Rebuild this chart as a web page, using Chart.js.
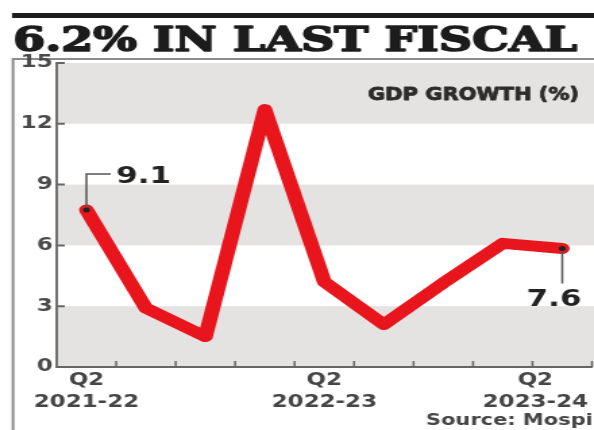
<!DOCTYPE html>
<html>
<head>
<meta charset="utf-8">
<script src="https://cdn.jsdelivr.net/npm/chart.js@4.4.1/dist/chart.umd.min.js"></script>
<style>
  html, body { margin: 0; padding: 0; background: #fff; overflow: hidden; }
  /* the reference is stretched sideways, so draw narrow and widen */
  #gdp { display: block; transform-origin: 0 0; transform: scaleX(1.35); }
</style>
</head>
<body>
<canvas id="gdp" width="440" height="430"></canvas>
<script>
const quarters = ['Q2 2021-22', 'Q3 2021-22', 'Q4 2021-22', 'Q1 2022-23', 'Q2 2022-23',
                  'Q3 2022-23', 'Q4 2022-23', 'Q1 2023-24', 'Q2 2023-24'];
const gdpGrowth = [7.75, 2.9, 1.5, 12.7, 4.2, 2.1, 4.15, 6.1, 5.85];
const yTicks = [0, 3, 6, 9, 12, 15];
const shadedBands = [[12, 15], [6, 9], [0, 3]];
const callouts = [
  { index: 0, text: '9.1', side: 'up' },
  { index: 8, text: '7.6', side: 'down' }
];
const titleText = '6.2% IN LAST FISCAL';
const seriesTitle = 'GDP GROWTH (%)';
const sourceText = 'Source: Mospi';

const SX = 1.35; // horizontal stretch applied by css

function fitText(ctx, text, x, y, width, stroke) {
  const w = ctx.measureText(text).width;
  ctx.save();
  ctx.translate(x, y);
  ctx.scale(width / w, 1);
  if (stroke) {
    ctx.lineWidth = stroke;
    ctx.lineJoin = 'round';
    ctx.strokeText(text, 0, 0);
  }
  ctx.fillText(text, 0, 0);
  ctx.restore();
}

const backdrop = {
  id: 'backdrop',
  beforeDraw(chart) {
    const { ctx, chartArea: a, scales: { y } } = chart;
    ctx.save();
    ctx.fillStyle = '#fff';
    ctx.fillRect(0, 0, chart.width, chart.height);

    // heavy rule and headline
    ctx.fillStyle = '#1c1c1c';
    ctx.strokeStyle = '#1c1c1c';
    ctx.fillRect(12 / SX, 13, chart.width, 5);
    ctx.font = 'bold 33px "DejaVu Serif"';
    ctx.textBaseline = 'alphabetic';
    ctx.textAlign = 'left';
    fitText(ctx, titleText, 13 / SX, 51, 564 / SX, 1.6);

    // frame
    ctx.strokeStyle = '#8c8c8c';
    ctx.lineWidth = 2;
    ctx.beginPath();
    ctx.moveTo(13 / SX, chart.height);
    ctx.lineTo(13 / SX, 59);
    ctx.lineTo(chart.width, 59);
    ctx.stroke();

    // grey bands
    ctx.fillStyle = '#e5e3e1';
    shadedBands.forEach(([lo, hi]) => {
      const top = y.getPixelForValue(hi), bot = y.getPixelForValue(lo);
      ctx.fillRect(a.left, top, chart.width - a.left, bot - top);
    });

    ctx.fillStyle = '#2b2b2b';
    ctx.strokeStyle = '#2b2b2b';
    ctx.font = 'bold 17px "DejaVu Sans"';
    ctx.textBaseline = 'middle';
    ctx.textAlign = 'left';
    fitText(ctx, seriesTitle, 368 / SX, 96, 211 / SX, 0.8);
    ctx.restore();
  },
  beforeDatasetsDraw(chart) {
    const { ctx, chartArea: a, scales: { x, y } } = chart;
    ctx.save();
    ctx.strokeStyle = '#666';
    ctx.lineWidth = 2;
    ctx.beginPath();
    yTicks.forEach(v => {
      const py = y.getPixelForValue(v);
      ctx.moveTo(a.left, py);
      ctx.lineTo(a.left + 6, py);
    });
    ctx.stroke();
    ctx.lineWidth = 1.5;
    ctx.beginPath();
    for (let k = 1; k <= quarters.length; k++) {
      const px = x.getPixelForValue(k - 0.5);
      ctx.moveTo(px, a.bottom);
      ctx.lineTo(px, a.bottom - 6);
    }
    ctx.stroke();

    // category labels, only the Q2s
    ctx.fillStyle = '#454545';
    ctx.font = 'bold 17px "DejaVu Sans"';
    ctx.textAlign = 'center';
    ctx.textBaseline = 'middle';
    quarters.forEach((q, i) => {
      if (!q.startsWith('Q2')) return;
      const lines = q.split(' ');
      const w = Math.max(...lines.map(l => ctx.measureText(l).width));
      const cx = Math.min(x.getPixelForValue(i), 588 / SX - w / 2);
      ctx.fillText(lines[0], cx, 381);
      ctx.fillText(lines[1], cx, 403);
    });

    ctx.font = 'bold 15.5px "DejaVu Sans"';
    ctx.textAlign = 'left';
    ctx.fillText(sourceText, 426 / SX, 421);
    ctx.restore();
  },
  afterDatasetsDraw(chart) {
    const { ctx } = chart;
    const meta = chart.getDatasetMeta(0);
    ctx.save();
    ctx.strokeStyle = '#555';
    ctx.fillStyle = '#222';
    ctx.lineWidth = 1.5;
    ctx.font = 'bold 23px "DejaVu Sans"';
    ctx.textBaseline = 'middle';
    callouts.forEach(c => {
      const p = meta.data[c.index];
      ctx.beginPath();
      if (c.side === 'up') {
        ctx.moveTo(p.x, p.y);
        ctx.lineTo(p.x, p.y - 36);
        ctx.lineTo(p.x + 18, p.y - 36);
        ctx.stroke();
        ctx.textAlign = 'left';
        ctx.fillText(c.text, p.x + 22, p.y - 33);
      } else {
        ctx.moveTo(p.x, p.y);
        ctx.lineTo(p.x, p.y + 35);
        ctx.stroke();
        ctx.textAlign = 'center';
        ctx.fillText(c.text, p.x - 6, p.y + 52);
      }
      ctx.beginPath();
      ctx.arc(p.x, p.y, 2.5, 0, Math.PI * 2);
      ctx.fill();
    });
    ctx.restore();
  }
};

new Chart(document.getElementById('gdp'), {
  type: 'line',
  data: {
    labels: quarters,
    datasets: [{
      label: seriesTitle,
      data: gdpGrowth,
      borderColor: '#e8151d',
      borderWidth: 11,
      borderJoinStyle: 'round',
      borderCapStyle: 'round',
      pointRadius: 0,
      tension: 0
    }]
  },
  options: {
    responsive: false,
    animation: false,
    layout: { padding: { top: 63, bottom: 63, left: 0, right: 1.5 } },
    plugins: { legend: { display: false }, tooltip: { enabled: false } },
    scales: {
      x: {
        offset: true,
        grid: { display: true, drawOnChartArea: false, drawTicks: false },
        border: { display: true, color: '#666', width: 2 },
        ticks: { display: false }
      },
      y: {
        min: 0,
        max: 15,
        afterBuildTicks(scale) { scale.ticks = yTicks.map(v => ({ value: v })); },
        afterFit(scale) { scale.width = 42; },
        grid: { display: true, drawOnChartArea: false, drawTicks: false },
        border: { display: true, color: '#707070', width: 2 },
        ticks: {
          padding: 3,
          color: '#4a4a4a',
          font: { family: 'DejaVu Sans', weight: 'bold', size: 17 }
        }
      }
    }
  },
  plugins: [backdrop]
});
</script>
</body>
</html>
